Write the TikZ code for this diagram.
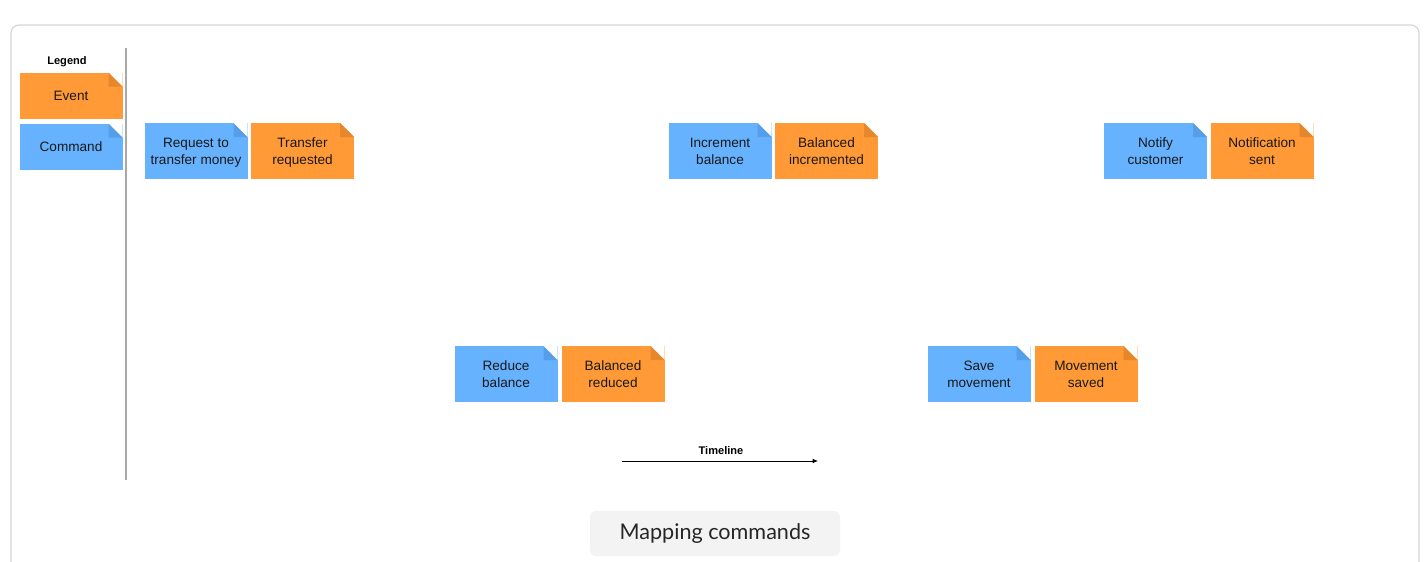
\documentclass[tikz,border=0pt]{standalone}
\usepackage{fontspec}
\usetikzlibrary{arrows.meta}
\setmainfont{Liberation Sans}
\newfontfamily\capfont{Lato}
\definecolor{cmdblue}{HTML}{66B2FF}
\definecolor{cmdfold}{HTML}{559FEA}
\definecolor{evorange}{HTML}{FF9A37}
\definecolor{evfold}{HTML}{E5872A}
\definecolor{framegray}{HTML}{D6D6D6}
\definecolor{divgray}{HTML}{A8A8A8}
\definecolor{capfill}{HTML}{F3F3F3}
\newcommand\stline[1]{#1\rule[-1.5pt]{0pt}{11.1pt}}
\tikzset{
  sticky/.style={minimum width=103*0.75pt, minimum height=56*0.75pt, inner sep=0pt, align=center,
    font=\fontsize{10.2}{12.7}\selectfont, text=black!90},
  corner/.style 2 args={path picture={
    \fill[white] ([xshift=-10.5pt]path picture bounding box.north east) -- ([xshift=1pt,yshift=1pt]path picture bounding box.north east) -- ([yshift=-10.5pt]path picture bounding box.north east) -- cycle;
    \fill[#2] ([xshift=-10.5pt]path picture bounding box.north east) -- ([xshift=-10.5pt,yshift=-10.5pt]path picture bounding box.north east) -- ([yshift=-10.5pt]path picture bounding box.north east) -- cycle;}},
  command/.style={sticky, fill=cmdblue, corner={cmdblue}{cmdfold}},
  event/.style={sticky, fill=evorange, corner={evorange}{evfold}},
  boldlabel/.style={font=\bfseries\fontsize{8.3}{9}\selectfont},
}
\begin{document}
\begin{tikzpicture}[x=0.75pt,y=-0.75pt]
\useasboundingbox (0,0) rectangle (1424,561);
% frame
\draw[framegray, line width=0.9pt, rounded corners=6] (11,562) -- (11,25) -- (1419,25) -- (1419,562);
% divider
\draw[divgray, line width=0.8pt] (126,48) -- (126,480);
% legend
\node[boldlabel] (legend) at (67,62) {Legend};
\node[event] (lev) at (71,95.5) [minimum height=46*0.75pt] {Event};
\node[command] (lcmd) at (71,146.5) [minimum height=46*0.75pt] {Command};
% top row
\node[command] (req) at (196,151) {\stline{Request to}\\\stline{transfer money}};
\node[event] (treq) at (302.5,151) {\stline{Transfer}\\\stline{requested}};
\node[command] (inc) at (720,151) {\stline{Increment}\\\stline{balance}};
\node[event] (binc) at (826.5,151) {\stline{Balanced}\\\stline{incremented}};
\node[command] (notify) at (1155.5,151) {\stline{Notify}\\\stline{customer}};
\node[event] (nsent) at (1262,151) {\stline{Notification}\\\stline{sent}};
% bottom row
\node[command] (red) at (506,374) {\stline{Reduce}\\\stline{balance}};
\node[event] (bred) at (613,374) {\stline{Balanced}\\\stline{reduced}};
\node[command] (save) at (979,374) {\stline{Save}\\\stline{movement}};
\node[event] (msaved) at (1086,374) {\stline{Movement}\\\stline{saved}};
% timeline
\coordinate (tl0) at (622,461);
\coordinate (tl1) at (818,461);
\draw[-{Latex[length=4pt,width=3.5pt]}, line width=0.6pt] (tl0) -- (tl1);
\node[boldlabel] (timeline) at (721,451) {Timeline};
% caption
\node[fill=capfill, rounded corners=4, minimum width=250*0.75pt, minimum height=45*0.75pt, font=\capfont\fontsize{16.2}{18}\selectfont, text=black!85] (caption) at (715,533.5) {Mapping commands};
\end{tikzpicture}
\end{document}
